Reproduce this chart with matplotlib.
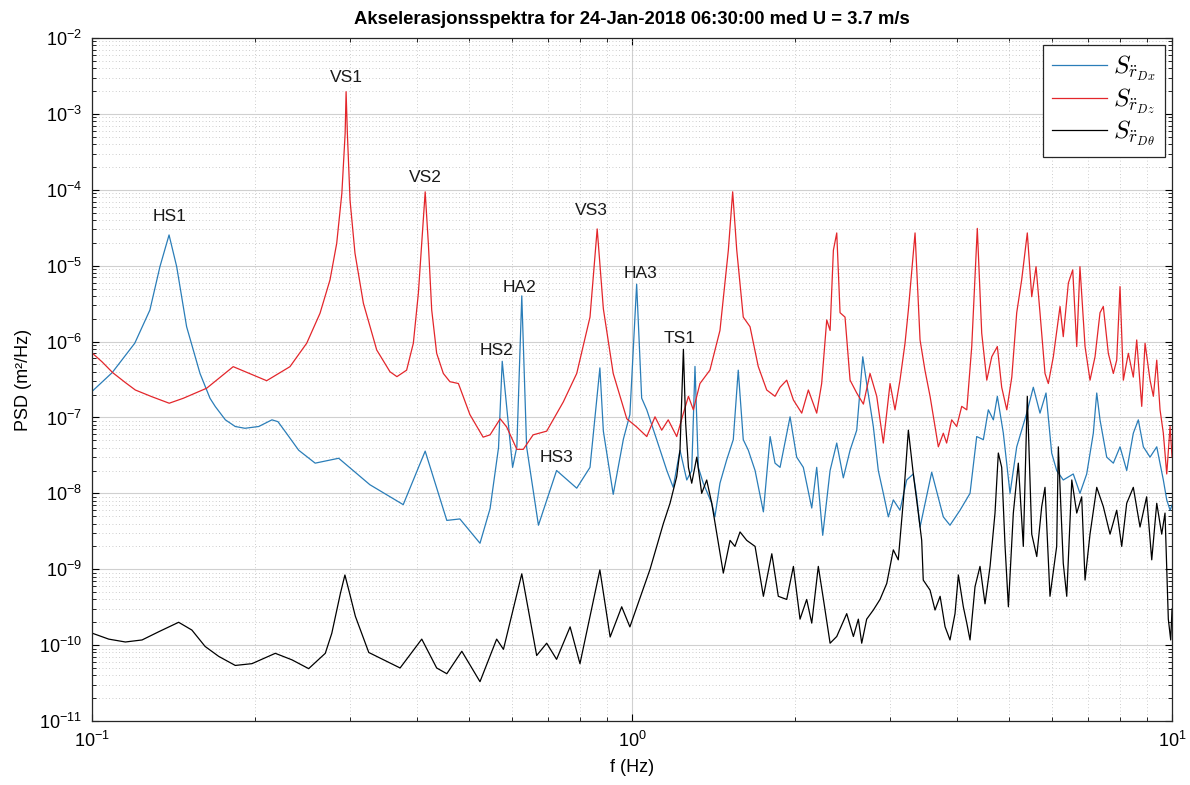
import matplotlib
matplotlib.use("Agg")
import matplotlib.pyplot as plt
from matplotlib.ticker import LogLocator, NullFormatter

plt.rcParams['font.family'] = ['Liberation Sans', 'DejaVu Sans']
plt.rcParams['mathtext.fontset'] = 'cm'

# S_rDx (horizontal) - frequency (Hz) and PSD (m^2/Hz)
f_x = [0.100, 0.109, 0.120, 0.128, 0.1336, 0.1389, 0.1435, 0.1497, 0.1585, 0.1654, 0.1692, 0.1766,
       0.1842, 0.192, 0.2036, 0.2154, 0.221, 0.2291, 0.2414, 0.259, 0.2863, 0.327, 0.377, 0.414,
       0.454, 0.480, 0.523, 0.546, 0.566, 0.575, 0.586, 0.601, 0.612, 0.625, 0.638, 0.671,
       0.695, 0.725, 0.790, 0.836, 0.872, 0.885, 0.923, 0.964, 0.991, 1.020, 1.042, 1.065,
       1.111, 1.160, 1.192, 1.227, 1.263, 1.290, 1.308, 1.327, 1.355, 1.405, 1.424, 1.455,
       1.497, 1.540, 1.573, 1.607, 1.642, 1.690, 1.751, 1.802, 1.840, 1.880, 1.962, 2.018,
       2.076, 2.152, 2.198, 2.255, 2.327, 2.394, 2.462, 2.534, 2.607, 2.675, 2.720, 2.798,
       2.858, 2.920, 2.983, 3.047, 3.135, 3.226, 3.318, 3.367, 3.415, 3.589, 3.771, 3.880,
       4.050, 4.226, 4.348, 4.473, 4.569, 4.668, 4.748, 4.871, 5.012, 5.157, 5.382, 5.535,
       5.695, 5.843, 5.986, 6.115, 6.289, 6.563, 6.753, 6.950, 7.149, 7.254, 7.356, 7.569,
       7.786, 8.011, 8.243, 8.478, 8.661, 8.849, 9.105, 9.369, 9.636, 9.777, 9.916, 10.0]
psd_x = [2.2e-7, 3.9e-7, 9.5e-7, 2.6e-6, 9.7e-6, 2.54e-5, 9.7e-6, 1.57e-6, 3.8e-7, 1.79e-7, 1.39e-7, 9.3e-8,
         7.6e-8, 7.2e-8, 7.6e-8, 9.3e-8, 8.8e-8, 6.2e-8, 3.7e-8, 2.5e-8, 2.9e-8, 1.3e-8, 7.1e-9, 3.6e-8,
         4.4e-9, 4.6e-9, 2.2e-9, 6.3e-9, 4.0e-8, 5.5e-7, 1.4e-7, 2.2e-8, 4.1e-8, 4.0e-6, 4.1e-8, 3.8e-9,
         8.1e-9, 2.0e-8, 1.17e-8, 2.2e-8, 4.5e-7, 6.6e-8, 9.7e-9, 5.2e-8, 1.09e-7, 5.7e-6, 1.8e-7, 1.26e-7,
         5.1e-8, 2.0e-8, 1.2e-8, 3.7e-8, 1.5e-8, 2.0e-8, 4.7e-7, 2.2e-8, 1.36e-8, 7.4e-9, 4.9e-9, 1.36e-8,
         2.75e-8, 5.1e-8, 4.2e-7, 5.1e-8, 3.7e-8, 2.0e-8, 5.7e-9, 5.6e-8, 2.5e-8, 2.2e-8, 1.02e-7, 3.0e-8,
         2.2e-8, 6.4e-9, 2.2e-8, 2.8e-9, 2.0e-8, 4.6e-8, 1.6e-8, 3.7e-8, 6.8e-8, 6.3e-7, 2.8e-7, 7.6e-8,
         2.0e-8, 1.0e-8, 4.9e-9, 8.2e-9, 6.0e-9, 1.5e-8, 1.8e-8, 9.0e-9, 3.6e-9, 1.9e-8, 4.9e-9, 3.8e-9,
         6.0e-9, 1.0e-8, 5.6e-8, 5.1e-8, 1.26e-7, 9.3e-8, 1.9e-7, 6.2e-8, 1.0e-8, 4.1e-8, 1.14e-7, 2.5e-7,
         1.14e-7, 2.1e-7, 3.4e-8, 2.0e-8, 1.5e-8, 1.8e-8, 1.0e-8, 1.8e-8, 6.2e-8, 2.1e-7, 9.3e-8, 3.0e-8,
         2.5e-8, 4.1e-8, 2.0e-8, 6.2e-8, 9.3e-8, 4.1e-8, 3.0e-8, 4.1e-8, 1.5e-8, 8.2e-9, 6.0e-9, 7.0e-9]

# S_rDz (vertical)
f_z = [0.100, 0.1044, 0.1092, 0.1153, 0.1203, 0.129, 0.139, 0.1476, 0.1631, 0.1826, 0.2106, 0.2326, 0.2498,
       0.2644, 0.2759, 0.2839, 0.2902, 0.2943, 0.2955, 0.2971, 0.3005, 0.3069, 0.3181, 0.3367, 0.3563,
       0.367, 0.3825, 0.3936, 0.4021, 0.408, 0.414, 0.4196, 0.4257, 0.4348, 0.4473, 0.460, 0.477,
       0.501, 0.530, 0.546, 0.570, 0.586, 0.612, 0.629, 0.656, 0.695, 0.746, 0.790, 0.836,
       0.862, 0.885, 0.923, 0.978, 1.020, 1.065, 1.103, 1.135, 1.167, 1.210, 1.245, 1.272,
       1.299, 1.336, 1.394, 1.455, 1.508, 1.536, 1.563, 1.607, 1.654, 1.713, 1.776, 1.840,
       1.880, 1.934, 1.990, 2.062, 2.121, 2.198, 2.245, 2.294, 2.327, 2.360, 2.394, 2.428,
       2.480, 2.534, 2.607, 2.682, 2.759, 2.839, 2.920, 3.005, 3.069, 3.135, 3.203, 3.249,
       3.343, 3.415, 3.487, 3.564, 3.640, 3.692, 3.771, 3.825, 3.908, 3.993, 4.079, 4.168,
       4.257, 4.359, 4.442, 4.539, 4.636, 4.748, 4.837, 4.943, 5.050, 5.157, 5.267, 5.395,
       5.498, 5.600, 5.695, 5.818, 5.901, 6.028, 6.203, 6.289, 6.427, 6.548, 6.661, 6.753,
       6.901, 7.049, 7.201, 7.356, 7.460, 7.621, 7.786, 7.899, 8.011, 8.125, 8.300, 8.478,
       8.602, 8.788, 8.913, 9.105, 9.235, 9.369, 9.502, 9.636, 9.777, 9.916, 10.0]
psd_z = [7.1e-7, 5.4e-7, 3.9e-7, 2.88e-7, 2.3e-7, 1.88e-7, 1.54e-7, 1.79e-7, 2.43e-7, 4.67e-7, 3.05e-7, 4.67e-7, 9.5e-7,
         2.36e-6, 6.5e-6, 1.97e-5, 9.0e-5, 5.55e-4, 1.96e-3, 5.55e-4, 7.3e-5, 1.46e-5, 3.2e-6, 7.75e-7, 4.0e-7,
         3.45e-7, 4.2e-7, 9.5e-7, 4.3e-6, 1.97e-5, 9.4e-5, 1.97e-5, 2.6e-6, 7.0e-7, 3.8e-7, 2.96e-7, 2.8e-7,
         1.09e-7, 5.5e-8, 5.9e-8, 9.6e-8, 7.5e-8, 3.8e-8, 3.8e-8, 5.9e-8, 6.6e-8, 1.6e-7, 3.8e-7, 2.1e-6,
         3.05e-5, 2.7e-6, 3.8e-7, 9.6e-8, 7.5e-8, 5.6e-8, 1.02e-7, 6.8e-8, 9.3e-8, 5.6e-8, 1.14e-7, 1.9e-7,
         1.26e-7, 2.8e-7, 4.2e-7, 1.4e-6, 1.6e-5, 9.4e-5, 1.6e-5, 2.1e-6, 1.57e-6, 4.7e-7, 2.3e-7, 1.9e-7,
         2.5e-7, 3.1e-7, 1.7e-7, 1.14e-7, 2.3e-7, 1.14e-7, 2.8e-7, 1.93e-6, 1.4e-6, 1.6e-5, 2.7e-5, 2.4e-6,
         2.1e-6, 3.1e-7, 2.1e-7, 1.5e-7, 3.8e-7, 1.9e-7, 4.6e-8, 2.8e-7, 1.26e-7, 3.1e-7, 9.5e-7, 2.6e-6,
         2.7e-5, 1.05e-6, 4.2e-7, 1.9e-7, 7.6e-8, 4.1e-8, 6.2e-8, 4.6e-8, 9.3e-8, 7.6e-8, 1.4e-7, 1.26e-7,
         8.6e-7, 3.1e-5, 1.29e-6, 3.1e-7, 6.3e-7, 8.6e-7, 2.5e-7, 1.26e-7, 3.4e-7, 2.4e-6, 6.5e-6, 2.7e-5,
         3.9e-6, 9.7e-6, 2.4e-6, 3.8e-7, 2.8e-7, 6.3e-7, 2.9e-6, 1.16e-6, 5.9e-6, 8.8e-6, 8.6e-7, 9.7e-6,
         8.6e-7, 3.1e-7, 6.3e-7, 2.4e-6, 2.9e-6, 7.0e-7, 3.8e-7, 5.7e-7, 5.3e-6, 3.1e-7, 7.0e-7, 3.4e-7,
         1.05e-6, 1.4e-7, 9.5e-7, 3.1e-7, 1.9e-7, 5.7e-7, 1.26e-7, 6.2e-8, 1.8e-8, 7.6e-8, 3.0e-8]

# S_rDtheta (torsion)
f_t = [0.100, 0.1074, 0.1153, 0.1238, 0.1329, 0.1447, 0.1531, 0.162, 0.1717, 0.1842, 0.1978, 0.2185,
       0.2346, 0.2519, 0.2704, 0.278, 0.2884, 0.294, 0.300, 0.3074, 0.3255, 0.372, 0.408, 0.4348,
       0.454, 0.484, 0.523, 0.5615, 0.578, 0.625, 0.666, 0.695, 0.725, 0.768, 0.801, 0.872,
       0.911, 0.957, 0.991, 1.035, 1.080, 1.143, 1.176, 1.210, 1.227, 1.245, 1.257, 1.272,
       1.290, 1.318, 1.346, 1.375, 1.405, 1.445, 1.476, 1.519, 1.551, 1.585, 1.631, 1.690,
       1.751, 1.815, 1.866, 1.934, 1.990, 2.047, 2.106, 2.152, 2.213, 2.262, 2.327, 2.394,
       2.498, 2.570, 2.625, 2.663, 2.720, 2.798, 2.879, 2.963, 3.047, 3.112, 3.181, 3.249,
       3.318, 3.390, 3.439, 3.462, 3.564, 3.640, 3.720, 3.799, 3.880, 3.964, 4.021, 4.107,
       4.168, 4.226, 4.317, 4.410, 4.505, 4.603, 4.701, 4.768, 4.837, 4.907, 4.977, 5.083,
       5.192, 5.304, 5.395, 5.498, 5.617, 5.737, 5.818, 5.943, 6.115, 6.158, 6.289, 6.383,
       6.522, 6.661, 6.803, 6.901, 7.049, 7.254, 7.460, 7.677, 7.899, 8.069, 8.243, 8.478,
       8.724, 8.974, 9.171, 9.369, 9.570, 9.705, 9.843, 9.944, 10.0]
psd_t = [1.44e-10, 1.2e-10, 1.1e-10, 1.17e-10, 1.5e-10, 2.0e-10, 1.58e-10, 9.6e-11, 7.1e-11, 5.4e-11, 5.7e-11, 7.8e-11,
         6.4e-11, 4.9e-11, 7.8e-11, 1.43e-10, 4.8e-10, 8.4e-10, 4.8e-10, 2.4e-10, 8.0e-11, 5.0e-11, 1.2e-10, 5.0e-11,
         4.2e-11, 8.3e-11, 3.3e-11, 1.2e-10, 8.8e-11, 8.7e-10, 7.3e-11, 1.06e-10, 6.5e-11, 1.74e-10, 5.7e-11, 9.8e-10,
         1.28e-10, 3.2e-10, 1.74e-10, 4.2e-10, 1.0e-9, 4.0e-9, 7.4e-9, 1.66e-8, 3.7e-8, 7.9e-7, 8.4e-8, 2.2e-8,
         1.36e-8, 3.0e-8, 1.0e-8, 1.5e-8, 7.4e-9, 2.2e-9, 8.9e-10, 2.4e-9, 2.0e-9, 3.1e-9, 2.4e-9, 2.0e-9,
         4.4e-10, 1.6e-9, 4.4e-10, 4.0e-10, 1.09e-9, 2.2e-10, 4.0e-10, 1.95e-10, 1.09e-9, 4.0e-10, 1.06e-10, 1.3e-10,
         2.6e-10, 1.3e-10, 2.2e-10, 1.06e-10, 2.2e-10, 2.9e-10, 4.0e-10, 6.5e-10, 1.8e-9, 1.33e-9, 8.2e-9, 6.8e-8,
         1.8e-8, 5.5e-9, 2.4e-9, 7.2e-10, 5.3e-10, 2.9e-10, 4.4e-10, 1.75e-10, 1.17e-10, 2.6e-10, 8.4e-10, 3.2e-10,
         1.95e-10, 1.17e-10, 5.9e-10, 1.09e-9, 3.5e-10, 1.09e-9, 5.5e-9, 3.4e-8, 2.2e-8, 2.0e-9, 3.2e-10, 5.5e-9,
         2.5e-8, 2.0e-9, 1.9e-7, 2.9e-9, 1.47e-9, 6.7e-9, 1.2e-8, 4.4e-10, 2.0e-9, 4.1e-8, 1.2e-9, 4.4e-10,
         1.5e-8, 5.5e-9, 9.0e-9, 7.2e-10, 2.9e-9, 1.2e-8, 6.7e-9, 2.9e-9, 6.0e-9, 2.0e-9, 7.4e-9, 1.2e-8,
         3.6e-9, 9.0e-9, 1.33e-9, 7.4e-9, 2.9e-9, 5.5e-9, 2.2e-10, 1.17e-10, 3.0e-10]

# peak labels
peak_names = ['HS1', 'VS1', 'VS2', 'HS2', 'HA2', 'HS3', 'VS3', 'HA3', 'TS1']
peak_f = [0.139, 0.2955, 0.414, 0.560, 0.620, 0.725, 0.842, 1.035, 1.227]
peak_y = [4.5e-5, 3.06e-3, 1.43e-4, 7.7e-7, 5.1e-6, 3.0e-8, 5.3e-5, 8.0e-6, 1.1e-6]

fig = plt.figure(figsize=(11.9, 7.85), dpi=100)
ax = fig.add_axes([0.0773, 0.0815, 0.9076, 0.8701])

ax.loglog(f_x, psd_x, color='#2a7db8', lw=0.9, label=r'$S_{\ddot{r}_{Dx}}$')
ax.loglog(f_z, psd_z, color='#e3262b', lw=0.9, label=r'$S_{\ddot{r}_{Dz}}$')
ax.loglog(f_t, psd_t, color='black', lw=0.9, label=r'$S_{\ddot{r}_{D\theta}}$')

for name, fx, yv in zip(peak_names, peak_f, peak_y):
    ax.text(fx, yv, name, ha='center', va='center', fontsize=12.5, color='#1a1a1a')

ax.set_xlim(0.1, 10)
ax.set_ylim(1e-11, 1e-2)
ax.yaxis.set_major_locator(LogLocator(base=10, numticks=20))
ax.yaxis.set_minor_locator(LogLocator(base=10, subs=range(2, 10), numticks=20))
ax.yaxis.set_minor_formatter(NullFormatter())
ax.xaxis.set_minor_locator(LogLocator(base=10, subs=range(2, 10), numticks=20))
ax.xaxis.set_minor_formatter(NullFormatter())

ax.grid(True, which='major', color='#d0d0d0', lw=0.8, ls='-')
ax.grid(True, which='minor', color='#bdbdbd', lw=0.6, ls=(0, (1, 3)))
ax.set_axisbelow(True)

ax.tick_params(which='both', direction='in', top=True, right=True, labelsize=13, pad=7)
ax.tick_params(which='major', length=5)
ax.tick_params(which='minor', length=3)
for s in ax.spines.values():
    s.set_linewidth(0.9)
    s.set_color('#262626')

ax.set_title('Akselerasjonsspektra for 24-Jan-2018 06:30:00 med U = 3.7 m/s',
             fontsize=13.3, fontweight='bold', pad=10)
ax.set_xlabel('f (Hz)', fontsize=13, labelpad=6)
ax.set_ylabel('PSD (m²/Hz)', fontsize=13, labelpad=5)

leg = ax.legend(loc='upper right', fontsize=18, handlelength=2.2, handletextpad=0.25,
                fancybox=False, framealpha=1, edgecolor='#262626', borderaxespad=0.3,
                borderpad=0.35, labelspacing=0.12)
leg.get_frame().set_linewidth(0.9)

fig.savefig('out.png', dpi=100)
